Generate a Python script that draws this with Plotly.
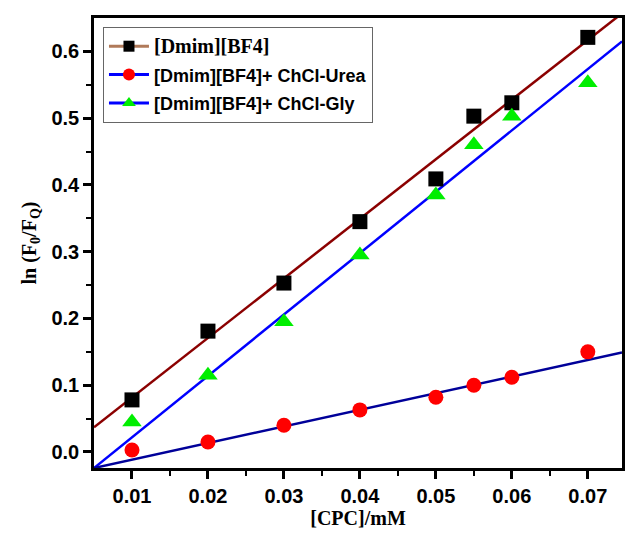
import plotly.graph_objects as go

cpc = [0.01, 0.02, 0.03, 0.04, 0.05, 0.055, 0.06, 0.07]
dmim = [0.078, 0.181, 0.253, 0.345, 0.409, 0.503, 0.523, 0.621]
urea = [0.003, 0.015, 0.040, 0.063, 0.082, 0.100, 0.112, 0.150]
gly = [0.045, 0.115, 0.195, 0.295, 0.385, 0.460, 0.503, 0.553]

fit_x = [0.005, 0.0745]
dmim_fit = [0.037, 0.657]
urea_fit = [-0.024, 0.149]
gly_fit = [-0.024, 0.615]

names = ['<span style="font-family:Liberation Serif, Times New Roman;font-size:20px">[Dmim][BF4]</span>',
         '[Dmim][BF4]+ ChCl-Urea',
         '[Dmim][BF4]+ ChCl-Gly']

fig = go.Figure()
# fit lines
fig.add_trace(go.Scatter(x=fit_x, y=dmim_fit, mode='lines', line=dict(color='#8b0000', width=2.5), showlegend=False))
fig.add_trace(go.Scatter(x=fit_x, y=gly_fit, mode='lines', line=dict(color='#0000ff', width=2.5), showlegend=False))
fig.add_trace(go.Scatter(x=fit_x, y=urea_fit, mode='lines', line=dict(color='#000099', width=2.5), showlegend=False))
# markers
fig.add_trace(go.Scatter(x=cpc, y=dmim, mode='markers', marker=dict(symbol='square', color='black', size=15), showlegend=False))
fig.add_trace(go.Scatter(x=cpc, y=urea, mode='markers', marker=dict(symbol='circle', color='#ff0000', size=15), showlegend=False))
fig.add_trace(go.Scatter(x=cpc, y=gly, mode='markers', marker=dict(symbol='triangle-up', color='#00ee00', size=17), showlegend=False))
# legend entries
fig.add_trace(go.Scatter(x=[None], y=[None], mode='lines+markers', name=names[0], legendgroup='a',
                         line=dict(color='#b07a5a', width=3), marker=dict(symbol='square', color='black', size=11)))
fig.add_trace(go.Scatter(x=[None], y=[None], mode='lines+markers', name=names[1], legendgroup='b',
                         line=dict(color='#0000ff', width=3), marker=dict(symbol='circle', color='#ff0000', size=12)))
fig.add_trace(go.Scatter(x=[None], y=[None], mode='lines+markers', name=names[2], legendgroup='c',
                         line=dict(color='#0000ff', width=3), marker=dict(symbol='triangle-up', color='#00ee00', size=12)))

tickfont = dict(family='Liberation Sans, Arial', size=20, color='black', weight='bold')
titlefont = dict(family='Liberation Serif, Times New Roman', size=20, color='black', weight='bold')

fig.update_layout(
    width=630, height=533,
    margin=dict(l=94, r=5, t=18, b=65),
    plot_bgcolor='white', paper_bgcolor='white',
    showlegend=True,
    legend=dict(x=0.017, y=0.98, xanchor='left', yanchor='top',
                bgcolor='white', bordercolor='#666666', borderwidth=1,
                font=dict(family='Liberation Sans, Arial', size=18, color='black', weight='bold'),
                tracegroupgap=2, itemwidth=40),
    xaxis=dict(range=[0.005, 0.0745], tickvals=[0.01, 0.02, 0.03, 0.04, 0.05, 0.06, 0.07],
               ticktext=['0.01', '0.02', '0.03', '0.04', '0.05', '0.06', '0.07'],
               ticks='outside', ticklen=8, tickwidth=2.5, tickcolor='black',
               minor=dict(tickvals=[0.015, 0.025, 0.035, 0.045, 0.055, 0.065], ticks='outside', ticklen=5, tickwidth=2, tickcolor='black'),
               showline=True, linewidth=2.5, linecolor='black', mirror=True,
               showgrid=False, zeroline=False, tickfont=tickfont,
               title=dict(text='[CPC]/mM', font=titlefont, standoff=6)),
    yaxis=dict(range=[-0.024, 0.65], tickvals=[0.0, 0.1, 0.2, 0.3, 0.4, 0.5, 0.6],
               ticktext=['0.0', '0.1', '0.2', '0.3', '0.4', '0.5', '0.6'],
               ticks='outside', ticklen=8, tickwidth=2.5, tickcolor='black',
               minor=dict(tickvals=[0.05, 0.15, 0.25, 0.35, 0.45, 0.55], ticks='outside', ticklen=5, tickwidth=2, tickcolor='black'),
               showline=True, linewidth=2.5, linecolor='black', mirror=True,
               showgrid=False, zeroline=False, tickfont=tickfont,
               title=dict(text='ln (F<sub>0</sub>/F<sub>Q</sub>)', font=titlefont, standoff=10)),
)

fig.write_html("out.html")
